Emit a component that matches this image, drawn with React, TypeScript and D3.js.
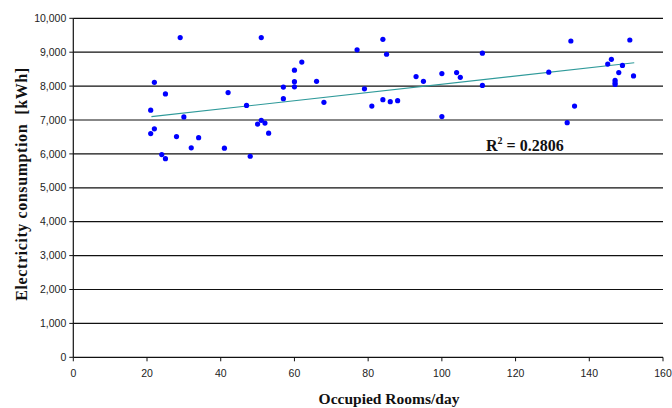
import React from "react";
import * as d3 from "d3";

const rooms = [
  21, 21, 22, 22, 24, 25, 25, 28, 29, 30, 32, 34, 41, 42, 47, 48, 50, 51, 51, 52, 53,
  57, 57, 60, 60, 60, 62, 66, 68, 77, 79, 81, 84, 84, 85, 86, 88, 93, 95, 100, 100,
  104, 105, 111, 111, 129, 134, 135, 136, 145, 146, 147, 147, 147, 148, 149, 151, 152,
];
const consumption = [
  7290, 6600, 8110, 6740, 5980, 7770, 5860, 6510, 9430, 7090, 6180, 6480, 6170, 7810,
  7430, 5930, 6880, 9430, 6990, 6910, 6610, 7630, 7970, 8470, 8130, 7980, 8710, 8140,
  7520, 9070, 7920, 7410, 9380, 7600, 8940, 7540, 7570, 8280, 8140, 8370, 7100, 8400,
  8260, 8970, 8020, 8410, 6920, 9330, 7410, 8650, 8790, 8170, 8100, 8050, 8400, 8610,
  9360, 8300,
];
const trendIntercept = 6840;
const trendSlope = 12.15;
const trendRange = [21.2, 152.2];
const xTicks = [0, 20, 40, 60, 80, 100, 120, 140, 160];
const yTicks = [0, 1000, 2000, 3000, 4000, 5000, 6000, 7000, 8000, 9000, 10000];
const rSquared = "0.2806";
const xTitle = "Occupied Rooms/day";
const yTitle = "Electricity consumption  [kWh]";

const W = 672;
const H = 408;
const L = 73.3;
const R = 663;
const T = 18.3;
const B = 357.3;

export default function App() {
  const x = d3.scaleLinear().domain([0, 160]).range([L, R]);
  const y = d3.scaleLinear().domain([0, 10000]).range([B, T]);
  const fmt = d3.format(",");
  const trendLine = d3
    .line<number>()
    .x((d) => x(d))
    .y((d) => y(trendIntercept + trendSlope * d));

  const tickFont = "'Liberation Sans', Arial, sans-serif";
  const serif = "'Liberation Serif', 'Times New Roman', serif";

  return (
    <svg
      width={W}
      height={H}
      style={{ position: "absolute", left: 0, top: 0, background: "#fff" }}
    >
      {/* gridlines */}
      {yTicks
        .filter((t) => t > 0)
        .map((t) => (
          <line
            key={"g" + t}
            x1={L}
            x2={R}
            y1={y(t)}
            y2={y(t)}
            stroke="#111"
            strokeWidth={1.2}
          />
        ))}
      {/* axes */}
      <line x1={L} x2={L} y1={T} y2={B} stroke="#111" strokeWidth={1.2} />
      <line x1={L} x2={R} y1={B} y2={B} stroke="#111" strokeWidth={1.2} />
      {yTicks.map((t) => (
        <g key={"y" + t}>
          <line x1={L - 4} x2={L} y1={y(t)} y2={y(t)} stroke="#111" strokeWidth={1} />
          <text
            x={L - 7}
            y={y(t)}
            dy="0.35em"
            textAnchor="end"
            fontFamily={tickFont}
            fontSize={10.5}
            fill="#222"
          >
            {fmt(t)}
          </text>
        </g>
      ))}
      {xTicks.map((t) => (
        <g key={"x" + t}>
          <line x1={x(t)} x2={x(t)} y1={B} y2={B + 4} stroke="#111" strokeWidth={1} />
          <text
            x={x(t)}
            y={B + 20}
            textAnchor="middle"
            fontFamily={tickFont}
            fontSize={10.5}
            fill="#222"
          >
            {t}
          </text>
        </g>
      ))}
      {/* trend line */}
      <path d={trendLine(trendRange) || ""} fill="none" stroke="#2f9a9a" strokeWidth={1.2} />
      {/* points */}
      {rooms.map((r, i) => (
        <circle key={"p" + i} cx={x(r)} cy={y(consumption[i])} r={2.6} fill="#0000ff" />
      ))}
      {/* R squared */}
      <text x={486} y={150.5} fontFamily={serif} fontWeight="bold" fontSize={16} fill="#111">
        R
        <tspan dy={-7} fontSize={10}>
          2
        </tspan>
        <tspan dy={7}> = {rSquared}</tspan>
      </text>
      {/* titles */}
      <text
        x={389}
        y={404}
        textAnchor="middle"
        fontFamily={serif}
        fontWeight="bold"
        fontSize={15.5}
        fill="#111"
      >
        {xTitle}
      </text>
      <text
        transform={`translate(27, 184) rotate(-90)`}
        textAnchor="middle"
        fontFamily={serif}
        fontWeight="bold"
        fontSize={16}
        letterSpacing={0.6}
        fill="#111"
        style={{ whiteSpace: "pre" }}
      >
        {yTitle}
      </text>
    </svg>
  );
}
